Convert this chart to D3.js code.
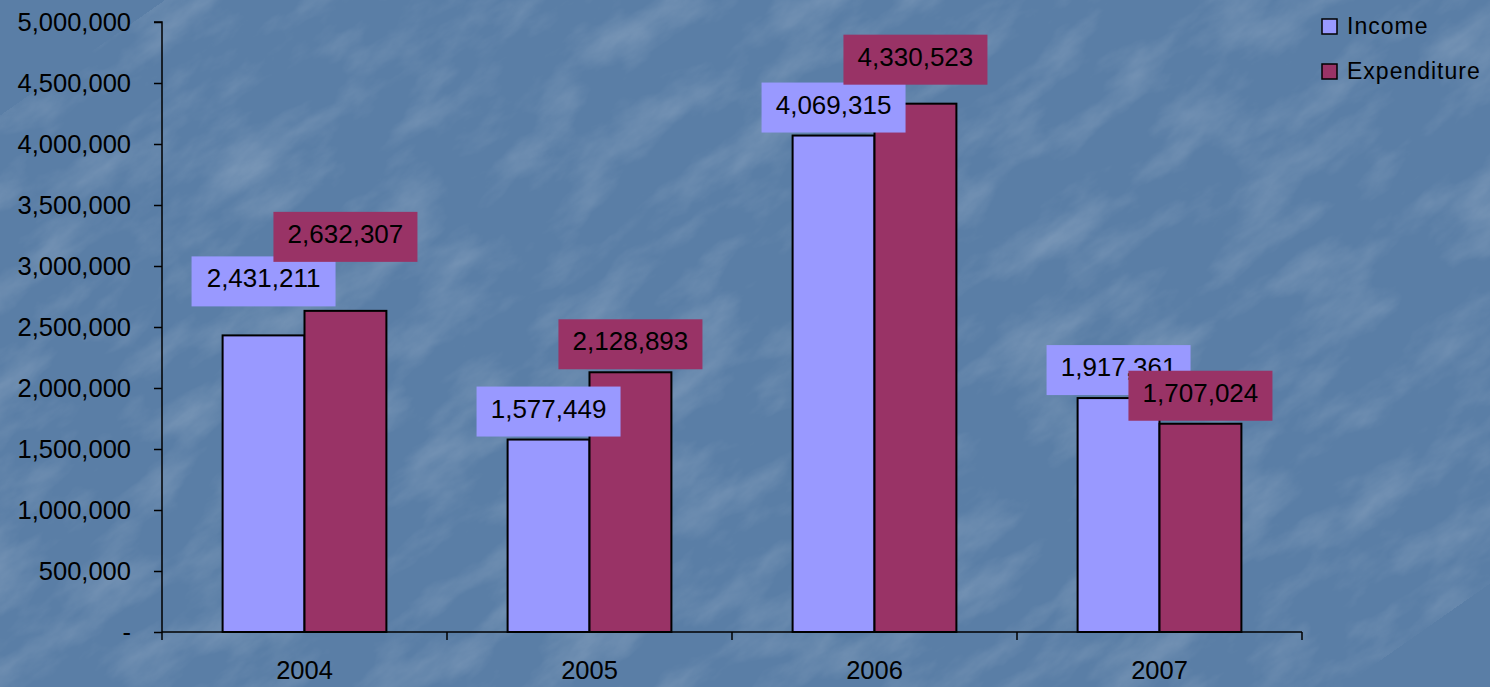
<!DOCTYPE html>
<html>
<head>
<meta charset="utf-8">
<script src="https://cdn.jsdelivr.net/npm/d3@7"></script>
<style>
  html, body { margin: 0; padding: 0; background: #5b7fa6; overflow: hidden; }
  text { font-family: "Liberation Sans", Arial, sans-serif; fill: #000; }
</style>
</head>
<body>
<div id="mychart"></div>
<script>
// chart data
const years = ["2004", "2005", "2006", "2007"];
const seriesNames = ["Income", "Expenditure"];
const income = [2431211, 1577449, 4069315, 1917361];
const expenditure = [2632307, 2128893, 4330523, 1707024];
const yTicks = [0, 500000, 1000000, 1500000, 2000000, 2500000, 3000000, 3500000, 4000000, 4500000, 5000000];

const colors = { Income: "#9999ff", Expenditure: "#993366" };

// extra lift (px) for labels that were dragged up in the original
const labelLift = { Income: [26, 0, 0, 0], Expenditure: [46, 0, 16, 0] };

const width = 1490;
const height = 687;
const plot = { left: 162, right: 1302, top: 22, bottom: 632 };

const svg = d3.select("#mychart")
    .append("svg")
    .attr("width", width)
    .attr("height", height);

// textured blue background
const defs = svg.append("defs");
const filt = defs.append("filter").attr("id", "tex").attr("x", 0).attr("y", 0).attr("width", 1).attr("height", 1);
filt.append("feTurbulence")
    .attr("type", "fractalNoise")
    .attr("baseFrequency", "0.02 0.045")
    .attr("numOctaves", 5)
    .attr("seed", 11)
    .attr("result", "noise");
filt.append("feColorMatrix")
    .attr("in", "noise")
    .attr("type", "matrix")
    .attr("values", "0 0 0 0 1  0 0 0 0 1  0 0 0 0 1  1.6 0 0 0 -0.7");

svg.append("rect").attr("width", width).attr("height", height).attr("fill", "#5a7ea6");
svg.append("rect").attr("width", width).attr("height", height)
    .attr("filter", "url(#tex)").attr("opacity", 0.22)
    .attr("transform", `rotate(-35 ${width / 2} ${height / 2}) scale(1.8) translate(-330 -150)`);

const x0 = d3.scaleBand().domain(years).range([plot.left, plot.right]).padding(0);
const x1 = d3.scaleBand().domain(seriesNames).range([0, x0.bandwidth()]).paddingInner(0).paddingOuter(0.74);
const y = d3.scaleLinear().domain([0, 5000000]).range([plot.bottom, plot.top]);

const fmt = d3.format(",");

// y axis
const yAxis = d3.axisLeft(y)
    .tickValues(yTicks)
    .tickSize(8)
    .tickPadding(23)
    .tickFormat(d => d === 0 ? "-" : fmt(d));

const gy = svg.append("g")
    .attr("transform", `translate(${plot.left},0)`)
    .call(yAxis);
gy.select(".domain").attr("stroke", "#000").attr("stroke-width", 1.5).attr("d", `M-8,${plot.top}H0V${plot.bottom}`);
gy.selectAll(".tick line").attr("stroke", "#000").attr("stroke-width", 1.5);
gy.selectAll(".tick text")
    .attr("font-size", 25.5)
    .attr("font-family", "Liberation Sans, Arial, sans-serif")
    .attr("fill", "#000")
    .attr("dy", "0.35em");

// x axis, ticks between categories
const xAxisG = svg.append("g").attr("transform", `translate(0,${plot.bottom})`);
xAxisG.append("line")
    .attr("x1", plot.left).attr("x2", plot.right)
    .attr("stroke", "#000").attr("stroke-width", 1.5);
const edges = years.map(d => x0(d)).concat([x0(years[years.length - 1]) + x0.bandwidth()]);
xAxisG.selectAll(".xtick")
    .data(edges)
    .enter()
    .append("line")
    .attr("x1", d => d).attr("x2", d => d)
    .attr("y1", 0).attr("y2", 8)
    .attr("stroke", "#000").attr("stroke-width", 1.5);
xAxisG.selectAll(".xlabel")
    .data(years)
    .enter()
    .append("text")
    .attr("x", d => x0(d) + x0.bandwidth() / 2)
    .attr("y", 47)
    .attr("text-anchor", "middle")
    .attr("font-size", 25.5)
    .text(d => d);

// bars
const rows = [];
years.forEach((yr, i) => {
    rows.push({ year: yr, i, series: "Income", value: income[i] });
    rows.push({ year: yr, i, series: "Expenditure", value: expenditure[i] });
});

svg.append("g").selectAll("rect")
    .data(rows)
    .enter()
    .append("rect")
    .attr("x", d => x0(d.year) + x1(d.series))
    .attr("y", d => y(d.value))
    .attr("width", x1.bandwidth())
    .attr("height", d => y(0) - y(d.value))
    .attr("fill", d => colors[d.series])
    .attr("stroke", "#000")
    .attr("stroke-width", 2);

// data labels in filled boxes
const boxW = 144, boxH = 50;
const labels = svg.append("g");
seriesNames.forEach(s => {
    const g = labels.append("g");
    const sub = rows.filter(d => d.series === s);
    const cx = d => x0(d.year) + x1(d.series) + x1.bandwidth() / 2;
    const bottom = d => y(d.value) - 3 - labelLift[s][d.i];
    g.selectAll("rect")
        .data(sub)
        .enter()
        .append("rect")
        .attr("x", d => cx(d) - boxW / 2)
        .attr("y", d => bottom(d) - boxH)
        .attr("width", boxW)
        .attr("height", boxH)
        .attr("fill", colors[s]);
    g.selectAll("text")
        .data(sub)
        .enter()
        .append("text")
        .attr("x", d => cx(d))
        .attr("y", d => bottom(d) - boxH / 2 + 6)
        .attr("text-anchor", "middle")
        .attr("font-size", 26)
        .text(d => fmt(d.value));
});

// legend
const legend = svg.append("g").attr("transform", "translate(1322,19)");
seriesNames.forEach((s, i) => {
    const g = legend.append("g").attr("transform", `translate(0,${i * 45})`);
    g.append("rect")
        .attr("width", 15).attr("height", 15)
        .attr("fill", colors[s])
        .attr("stroke", "#000").attr("stroke-width", 1.5);
    g.append("text")
        .attr("x", 25).attr("y", 15)
        .attr("font-size", 23)
        .attr("letter-spacing", 1)
        .text(s);
});
</script>
</body>
</html>
